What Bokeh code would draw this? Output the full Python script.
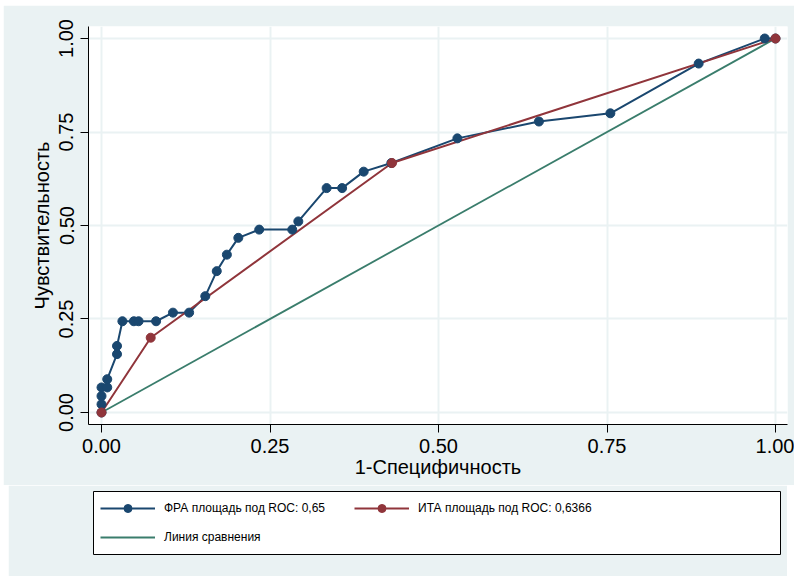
from bokeh.plotting import figure
from bokeh.models import (Range1d, FixedTicker, NumeralTickFormatter, Legend, LegendItem)
from bokeh.layouts import column
from bokeh.embed import file_html
from bokeh.resources import INLINE

# ---- data ----
fra_fpr = [0, 0, 0, 0, 0.0085, 0.0085, 0.023, 0.023, 0.031, 0.048, 0.055, 0.081, 0.106,
           0.13, 0.154, 0.171, 0.186, 0.203, 0.234, 0.283, 0.292, 0.334, 0.357, 0.389,
           0.430, 0.528, 0.649, 0.755, 0.886, 0.984, 1.0]
fra_tpr = [0, 0.022, 0.044, 0.067, 0.067, 0.089, 0.156, 0.178, 0.244, 0.244, 0.244, 0.244,
           0.267, 0.267, 0.311, 0.378, 0.422, 0.467, 0.489, 0.489, 0.511, 0.6, 0.6, 0.644,
           0.667, 0.733, 0.778, 0.8, 0.933, 1.0, 1.0]
ita_fpr = [0, 0.073, 0.431, 1.0]
ita_tpr = [0, 0.2, 0.667, 1.0]
ref_x = [0, 1]
ref_y = [0, 1]

ticks = [0, 0.25, 0.5, 0.75, 1.0]
label_fra = "ФРА площадь под ROC: 0,65"
label_ita = "ИТА площадь под ROC: 0,6366"
label_ref = "Линия сравнения"
x_title = "1-Специфичность"
y_title = "Чувствительность"

BLUE = "#1a476f"
RED = "#90353b"
GREEN = "#3a7d6c"
BG = "#eaf2f3"
FONT = "Liberation Sans"
FS = "20px"


def draw_curves(fig):
    r_ref = fig.line(ref_x, ref_y, line_color=GREEN, line_width=1.8)
    r_fra_l = fig.line(fra_fpr, fra_tpr, line_color=BLUE, line_width=2)
    r_ita_l = fig.line(ita_fpr, ita_tpr, line_color=RED, line_width=2)
    r_fra_m = fig.scatter(fra_fpr, fra_tpr, size=9, fill_color=BLUE, line_color=BLUE)
    r_ita_m = fig.scatter(ita_fpr, ita_tpr, size=9, fill_color=RED, line_color=RED)
    return r_ref, r_fra_l, r_fra_m, r_ita_l, r_ita_m


p = figure(frame_width=699, frame_height=398,
           min_border_left=85, min_border_right=7, min_border_top=21, min_border_bottom=61,
           x_range=Range1d(-0.0193, 1.0178), y_range=Range1d(-0.0321, 1.0321),
           output_backend="svg", toolbar_location=None)
p.margin = (5, 0, 0, 3)
p.border_fill_color = BG
p.background_fill_color = "white"
p.outline_line_color = None

for ax in (p.xaxis[0], p.yaxis[0]):
    ax.ticker = FixedTicker(ticks=ticks)
    ax.formatter = NumeralTickFormatter(format="0.00")
    ax.major_label_text_font = FONT
    ax.major_label_text_font_size = FS
    ax.major_label_text_color = "#000000"
    ax.axis_label_text_font = FONT
    ax.axis_label_text_font_size = FS
    ax.axis_label_text_font_style = "normal"
    ax.axis_label_text_color = "#000000"
    ax.minor_tick_line_color = None
    ax.major_tick_out = 8
    ax.major_tick_in = 0
    ax.axis_line_color = "#000000"
    ax.major_tick_line_color = "#000000"

p.xaxis.axis_label = x_title
p.yaxis.axis_label = y_title
p.yaxis.major_label_orientation = "vertical"
p.xaxis.major_label_standoff = 6
p.yaxis.major_label_standoff = 7
p.xaxis.axis_label_standoff = 0
p.yaxis.axis_label_standoff = 4

p.xgrid.grid_line_color = BG
p.ygrid.grid_line_color = BG
p.xgrid.grid_line_width = 2
p.ygrid.grid_line_width = 2

draw_curves(p)

# ---- legend panel below the chart (curves drawn off-view, only the key shows) ----
q = figure(frame_width=687, frame_height=63,
           min_border_left=85, min_border_right=7, min_border_top=6, min_border_bottom=22,
           x_range=Range1d(10, 11), y_range=Range1d(10, 11),
           output_backend="svg", toolbar_location=None)
q.margin = (0, 0, 0, 8)
q.border_fill_color = BG
q.background_fill_color = "white"
q.outline_line_color = "#000000"
q.outline_line_width = 1
q.axis.visible = False
q.grid.visible = False

k_ref, k_fra_l, k_fra_m, k_ita_l, k_ita_m = draw_curves(q)

legend = Legend(items=[
    LegendItem(label=label_fra, renderers=[k_fra_l, k_fra_m]),
    LegendItem(label=label_ita, renderers=[k_ita_l, k_ita_m]),
    LegendItem(label=label_ref, renderers=[k_ref]),
], location="top_left", orientation="horizontal", ncols=2,
    glyph_width=55, glyph_height=20, label_height=20, label_width=181,
    label_standoff=9, spacing=9, padding=7, margin=0,
    label_text_font=FONT, label_text_font_size="12px", label_text_color="#000000",
    border_line_alpha=0, background_fill_alpha=0)
q.add_layout(legend, "center")

layout = column(p, q, spacing=0)
open("out.html", "w").write(file_html(layout, INLINE))
